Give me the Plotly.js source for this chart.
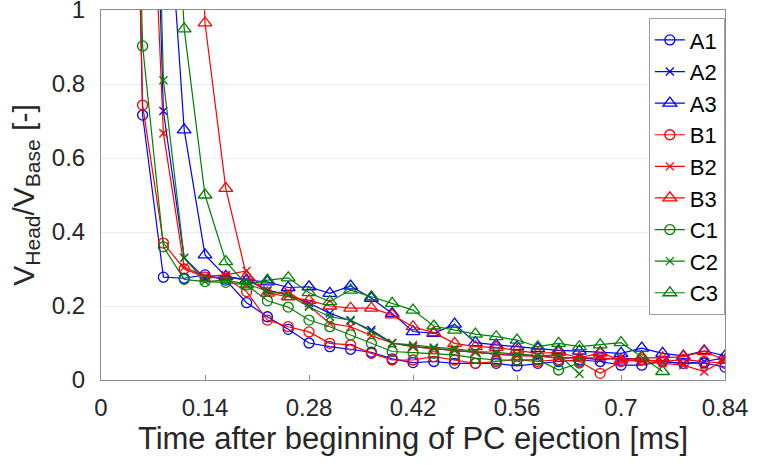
<!DOCTYPE html>
<html>
<head>
<meta charset="utf-8">
<script src="https://cdn.plot.ly/plotly-3.0.1.min.js"></script>
<style>html,body{margin:0;padding:0;background:#fff;}#chart{width:758px;height:465px;}</style>
</head>
<body>
<div id="chart"></div>
<script>
// Time after beginning of PC ejection [ms]
const time = [0, 0.028, 0.056, 0.084, 0.112, 0.14, 0.168, 0.196, 0.224, 0.252, 0.28,
  0.308, 0.336, 0.364, 0.392, 0.42, 0.448, 0.476, 0.504, 0.532, 0.56,
  0.588, 0.616, 0.644, 0.672, 0.7, 0.728, 0.756, 0.784, 0.812, 0.84];

const seriesNames = ["A1", "A2", "A3", "B1", "B2", "B3", "C1", "C2", "C3"];

const A1 = [null, 3.5, 0.716, 0.278, 0.275, 0.284, 0.27, 0.209, 0.171, 0.137, 0.10,
  0.09, 0.083, 0.075, 0.057, 0.047, 0.05, 0.045, 0.045, 0.045, 0.038,
  0.045, 0.05, 0.054, 0.05, 0.04, 0.04, 0.05, 0.045, 0.046, 0.035];
const A2 = [null, null, 2.6, 0.727, 0.33, 0.275, 0.28, 0.27, 0.243, 0.23, 0.208,
  0.18, 0.16, 0.135, 0.1, 0.09, 0.085, 0.08, 0.075, 0.07, 0.07,
  0.065, 0.06, 0.06, 0.055, 0.06, 0.055, 0.05, 0.045, 0.05, 0.06];
const A3 = [null, null, null, 1.5, 0.676, 0.338, 0.28, 0.27, 0.265, 0.25, 0.252,
  0.234, 0.254, 0.221, 0.18, 0.131, 0.126, 0.151, 0.101, 0.095, 0.09,
  0.085, 0.08, 0.078, 0.075, 0.072, 0.086, 0.072, 0.065, 0.079, 0.065];
const B1 = [null, 3.2, 0.743, 0.37, 0.30, 0.278, 0.275, 0.239, 0.162, 0.144, 0.13,
  0.099, 0.095, 0.072, 0.054, 0.054, 0.063, 0.054, 0.045, 0.05, 0.055,
  0.05, 0.055, 0.05, 0.018, 0.05, 0.055, 0.05, 0.055, 0.05, 0.045];
const B2 = [null, null, 2.0, 0.667, 0.305, 0.28, 0.284, 0.295, 0.234, 0.239, 0.2,
  0.153, 0.144, 0.12, 0.1, 0.09, 0.085, 0.08, 0.075, 0.07, 0.065,
  0.065, 0.06, 0.06, 0.06, 0.055, 0.05, 0.045, 0.04, 0.023, 0.055];
const B3 = [null, null, null, null, 2.5, 0.965, 0.518, 0.28, 0.235, 0.225, 0.215,
  0.2, 0.194, 0.194, 0.176, 0.144, 0.128, 0.099, 0.09, 0.088, 0.081,
  0.072, 0.075, 0.06, 0.073, 0.054, 0.06, 0.06, 0.063, 0.077, 0.054];
const C1 = [null, 3.0, 0.903, 0.36, 0.272, 0.266, 0.264, 0.257, 0.214, 0.197, 0.162,
  0.144, 0.122, 0.099, 0.077, 0.074, 0.072, 0.068, 0.059, 0.054, 0.054,
  0.055, 0.027, 0.046];
const C2 = [null, null, 3.0, 0.81, 0.33, 0.266, 0.27, 0.26, 0.24, 0.23, 0.198,
  0.171, 0.162, 0.13, 0.099, 0.095, 0.088, 0.085, 0.077, 0.075, 0.07,
  0.065, 0.068, 0.017];
const C3 = [null, null, null, 2.0, 0.949, 0.5, 0.32, 0.257, 0.27, 0.276, 0.236,
  0.212, 0.243, 0.225, 0.207, 0.189, 0.146, 0.135, 0.124, 0.117, 0.108,
  0.09, 0.099, 0.09, 0.095, 0.101, 0.063, 0.023];

const xTickVals = [0, 0.14, 0.28, 0.42, 0.56, 0.7, 0.84];
const xTickText = ["0", "0.14", "0.28", "0.42", "0.56", "0.7", "0.84"];
const yTickVals = [0, 0.2, 0.4, 0.6, 0.8, 1];
const yTickText = ["0", "0.2", "0.4", "0.6", "0.8", "1"];

const values = [A1, A2, A3, B1, B2, B3, C1, C2, C3];
const colors = ["#0000ff", "#0000ff", "#0000ff", "#ff0000", "#ff0000", "#ff0000", "#008000", "#008000", "#008000"];
const symbols = ["circle-open", "x-thin-open", "triangle-up-open",
                 "circle-open", "x-thin-open", "triangle-up-open",
                 "circle-open", "x-thin-open", "triangle-up-open"];
const sizes = { "circle-open": 10, "x-thin-open": 8, "triangle-up-open": 12 };

const traces = values.map((v, i) => ({
  type: "scatter",
  mode: "lines+markers",
  name: seriesNames[i],
  x: time.slice(0, v.length),
  y: v,
  connectgaps: false,
  line: { color: colors[i], width: 1.2 },
  marker: { symbol: symbols[i], size: sizes[symbols[i]], color: colors[i], line: { color: colors[i], width: 1.3 } },
  hoverinfo: "skip"
}));

const fontFam = "Liberation Sans, Arial, sans-serif";
const layout = {
  width: 758, height: 465,
  margin: { l: 101, r: 33, t: 10, b: 85 },
  paper_bgcolor: "#ffffff",
  plot_bgcolor: "#ffffff",
  font: { family: fontFam, color: "#262626", size: 20 },
  showlegend: true,
  legend: {
    x: 0.878, y: 0.978, xanchor: "left", yanchor: "top",
    bgcolor: "#ffffff", bordercolor: "#a0a0a0", borderwidth: 1,
    font: { family: fontFam, size: 22, color: "#000000" },
    tracegroupgap: 0, itemwidth: 30
  },
  xaxis: {
    range: [0, 0.84], tickvals: xTickVals, ticktext: xTickText,
    showgrid: false, zeroline: false,
    showline: true, mirror: true, linecolor: "#8c8c8c", linewidth: 1,
    ticks: "inside", ticklen: 5, tickcolor: "#8c8c8c",
    ticklabelstandoff: 6, ticklabeloverflow: "allow",
    tickfont: { family: fontFam, size: 24, color: "#262626" },
    title: { text: "Time after beginning of PC ejection [ms]", font: { family: fontFam, size: 31, color: "#262626" }, standoff: 5 }
  },
  yaxis: {
    range: [0, 1], tickvals: yTickVals, ticktext: yTickText,
    showgrid: true, gridcolor: "#ebebeb", gridwidth: 1, zeroline: false,
    showline: true, mirror: true, linecolor: "#8c8c8c", linewidth: 1,
    ticks: "", ticklabelstandoff: 10, ticklabeloverflow: "allow",
    tickfont: { family: fontFam, size: 24, color: "#262626" },
    title: { text: "V<sub>Head</sub>/V<sub>Base</sub> [-]", font: { family: fontFam, size: 30, color: "#262626" }, standoff: 8 }
  }
};

Plotly.newPlot("chart", traces, layout, { staticPlot: true, displayModeBar: false });
</script>
</body>
</html>
